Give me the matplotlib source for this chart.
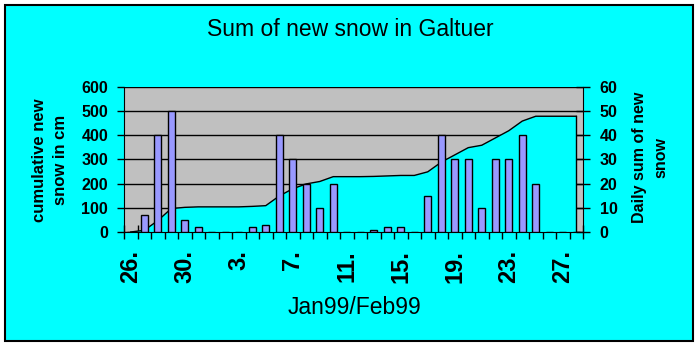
import matplotlib
matplotlib.use("Agg")
import matplotlib.pyplot as plt
from matplotlib.patches import Rectangle
import numpy as np

days = ["26.", "27.", "28.", "29.", "30.", "31.", "1.", "2.", "3.", "4.", "5.", "6.",
        "7.", "8.", "9.", "10.", "11.", "12.", "13.", "14.", "15.", "16.", "17.", "18.",
        "19.", "20.", "21.", "22.", "23.", "24.", "25.", "26.", "27.", "28."]
daily = [0, 7, 40, 50, 5, 2, 0, 0, 0, 2, 3, 40, 30, 20, 10, 20, 0, 0, 1, 2, 2, 0,
         15, 40, 30, 30, 10, 30, 30, 40, 20, 0, 0, 0]
cumulative = [0, 7, 47, 97, 102, 104, 104, 104, 104, 106, 109, 149, 179, 199, 209,
              229, 229, 229, 230, 232, 234, 234, 249, 289, 319, 349, 359, 389, 419,
              459, 479, 479, 479, 479]
left_ticks = [0, 100, 200, 300, 400, 500, 600]
right_ticks = [0, 10, 20, 30, 40, 50, 60]

CYAN = "#00FFFF"
GRAY = "#C0C0C0"
BAR = "#9999FF"
FONT = ["Liberation Sans", "DejaVu Sans"]
plt.rcParams['font.family'] = FONT

fig = plt.figure(figsize=(7, 3.5), dpi=100)
fig.patch.set_facecolor("white")
fig.patches.append(Rectangle((5/700, 1-341/350), 688/700, 336/350, transform=fig.transFigure,
                             facecolor=CYAN, edgecolor="black", linewidth=1.5, zorder=-10))

ax = fig.add_axes([124/700, 1-232/350, (583-124)/700, (232-87)/350])
ax.set_facecolor(GRAY)
x = np.arange(len(days))
ax.fill_between(x, cumulative, 0, facecolor=CYAN, edgecolor="none", zorder=1)
ax.plot(x, cumulative, color="black", lw=1, zorder=2)
ax.plot([x[-1], x[-1]], [0, cumulative[-1]], color="black", lw=1, zorder=2)
ax.set_xlim(-0.5, len(days)-0.5)
ax.set_ylim(0, 600)
ax.set_yticks(left_ticks)
ax.set_axisbelow(True)
ax.yaxis.grid(True, color="black", lw=1)
for s in ["top", "right"]:
    ax.spines[s].set_visible(False)
ax.spines["left"].set_color("black")
ax.spines["bottom"].set_color("black")
ax.tick_params(axis="y", direction="out", length=5, width=1, labelsize=11.5, pad=6.5)
for t in ax.get_yticklabels():
    t.set_fontweight("bold")

label_idx = list(range(0, len(days), 4))
ax.set_xticks(label_idx)
ax.set_xticklabels([days[i] for i in label_idx], rotation=90, fontsize=17, fontweight="bold")
ax.tick_params(axis="x", which="major", length=0, pad=13)
ax.set_xticks(np.arange(-0.5, len(days), 1.0), minor=True)
ax.tick_params(axis="x", which="minor", direction="inout", length=10, width=1)

ax2 = ax.twinx()
ax2.bar(x, daily, width=0.5, color=BAR, edgecolor="black", linewidth=1, zorder=3)
ax2.set_ylim(0, 60)
ax2.set_yticks(right_ticks)
for s in ["top", "left", "bottom"]:
    ax2.spines[s].set_visible(False)
ax2.tick_params(axis="y", direction="inout", length=10, width=1, labelsize=11.5, pad=7)
for t in ax2.get_yticklabels():
    t.set_fontweight("bold")

fig.text(350/700, 1-30/350, "Sum of new snow in Galtuer", ha="center", va="center", fontsize=16.5)
fig.text(50/700, 1-160/350, "cumulative new\nsnow in cm", ha="center", va="center",
         rotation=90, fontsize=12, fontweight="bold", linespacing=1.45)
fig.text(650/700, 1-157/350, "Daily sum of new\nsnow", ha="center", va="center",
         rotation=90, fontsize=11.5, fontweight="bold", linespacing=1.5)
fig.text(354/700, 1-308/350, "Jan99/Feb99", ha="center", va="center", fontsize=16.5)

fig.savefig("out.png", dpi=100)
